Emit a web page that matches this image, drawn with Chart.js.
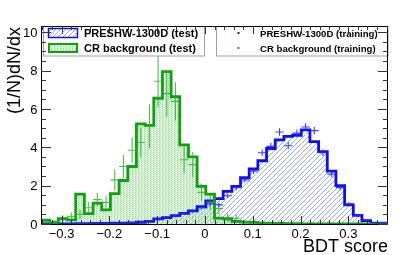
<!DOCTYPE html>
<html><head><meta charset="utf-8">
<script src="https://cdn.jsdelivr.net/npm/chart.js@4.4.1/dist/chart.umd.min.js"></script>
<style>html,body{margin:0;padding:0;background:#fff;overflow:hidden}</style>
</head><body><canvas id="c" width="409" height="255"></canvas>
<script>
// binning of the BDT score axis
const xMin = -0.343, xMax = 0.383, nBins = 40;
// PRESHW-1300D (test) histogram
const sigTest = [0.01,0.01,0.01,0.01,0.02,0.02,0.03,0.03,0.04,0.05,0.06,0.09,
  0.14,0.27,0.33,0.44,0.55,0.68,0.90,1.20,1.32,1.70,1.96,2.42,2.87,3.30,3.94,4.39,
  4.57,4.63,4.91,4.30,3.78,2.76,2.00,1.00,0.45,0.18,0.05,0.04];
// CR background (test) histogram
const bkgTest = [0.20,0.08,0.28,0.22,1.56,0.54,1.09,0.74,1.58,2.27,3.00,5.22,
  5.15,6.56,7.95,6.64,4.13,3.50,1.96,1.56,0.31,0.27,0.14,0.10,0.08,0.05,0.03,0.03,
  0.02,0.02,0.01,0.01,0,0,0,0,0,0,0,0];
// PRESHW-1300D (training) points and errors
const sigTrain = [0.01,0,0.01,0.01,0.02,0.02,0.03,0.04,0.04,0.05,0.07,0.10,
  0.15,0.25,0.35,0.42,0.55,0.65,0.85,1.05,1.00,1.47,1.90,2.30,2.76,3.72,4.05,4.80,
  4.08,4.74,5.06,4.87,3.72,2.60,1.90,1.05,0.45,0.20,0.06,0.02];
const sigTrainErr = [0.01,0,0.01,0.01,0.02,0.02,0.02,0.03,0.03,0.03,0.04,0.05,
  0.05,0.06,0.07,0.08,0.08,0.09,0.10,0.11,0.11,0.12,0.13,0.14,0.15,0.17,0.18,0.19,
  0.18,0.19,0.20,0.19,0.17,0.15,0.13,0.10,0.06,0.04,0.02,0.01];
// CR background (training) points and errors
const bkgTrain = [0.10,0.10,0.30,0.40,0.50,0.85,1.27,1.13,2.30,3.00,3.85,4.25,
  5.10,7.45,6.80,6.40,3.35,3.10,1.65,1.15,0.80,0.33,0.30,0.10,0.05,0.05,0.03,0.02,
  0.02,0.01,0,0,0,0,0,0,0,0,0,0];
const bkgTrainErr = [0.10,0.10,0.15,0.20,0.25,0.30,0.35,0.35,0.56,0.60,0.65,0.78,
  1.15,1.35,1.20,1.00,0.70,0.65,0.45,0.40,0.30,0.20,0.20,0.10,0.08,0.08,0.05,0.05,
  0.05,0.03,0,0,0,0,0,0,0,0,0,0];
// axis ticks
const xTicks = [-0.3,-0.2,-0.1,0,0.1,0.2,0.3];
const xTickLabels = ['\u22120.3','\u22120.2','\u22120.1','0','0.1','0.2','0.3'];
const yTicks = [0,2,4,6,8,10];
const yTickLabels = ['0','2','4','6','8','10'];
const yMax = 10.33;
const legendTest = ['PRESHW-1300D (test)','CR background (test)'];
const legendTrain = ['PRESHW-1300D (training)','CR background (training)'];
const xTitle = 'BDT score', yTitle = '(1/N)dN/dx';

const BLUE = '#1010e6', GREEN = '#12a012';
const bw = (xMax - xMin) / nBins;
const edge = k => xMin + k * bw;
function stepPoints(vals){
  const pts = [{x: edge(0), y: 0}];
  vals.forEach((v,k) => pts.push({x: edge(k), y: v}));
  pts.push({x: edge(nBins), y: vals[nBins-1]});
  pts.push({x: edge(nBins), y: 0});
  return pts;
}
const cv = document.getElementById('c');
const ctx0 = cv.getContext('2d');
function hatchPattern(){
  const c = document.createElement('canvas'); c.width = 5; c.height = 5;
  const g = c.getContext('2d');
  g.strokeStyle = 'rgba(120,145,205,0.85)'; g.lineWidth = 0.9;
  g.beginPath();
  for (const o of [-5,0,5]) { g.moveTo(o, 5); g.lineTo(o+5, 0); }
  g.stroke();
  return ctx0.createPattern(c, 'repeat');
}
function dotPattern(){
  const c = document.createElement('canvas'); c.width = 3; c.height = 2;
  const g = c.getContext('2d');
  g.fillStyle = 'rgba(170,225,170,0.35)'; g.fillRect(0,0,3,2);
  g.fillStyle = 'rgba(95,190,95,0.6)'; g.fillRect(0,0,1,1);
  g.fillStyle = 'rgba(140,210,140,0.45)'; g.fillRect(1,1,1,1);
  return ctx0.createPattern(c, 'repeat');
}
const hatch = hatchPattern(), dots = dotPattern();

function drawCrosses(ctx, xs, ys, vals, errs, color){
  ctx.save(); ctx.strokeStyle = color; ctx.lineWidth = 1.1;
  ctx.beginPath();
  vals.forEach((v,k) => {
    if (v <= 0) return;
    const x0 = xs.getPixelForValue(edge(k)), x1 = xs.getPixelForValue(edge(k+1));
    const xc = (x0 + x1) / 2, y = ys.getPixelForValue(v);
    ctx.moveTo(x0, y); ctx.lineTo(x1, y);
    const e = errs[k];
    if (e > 0) { ctx.moveTo(xc, ys.getPixelForValue(v + e)); ctx.lineTo(xc, ys.getPixelForValue(Math.max(0, v - e))); }
  });
  ctx.stroke(); ctx.restore();
}

const decor = {
  id: 'decor',
  afterDatasetsDraw(chart){
    const {ctx, scales:{x, y}} = chart;
    ctx.save();
    const a = chart.chartArea;
    ctx.beginPath(); ctx.rect(a.left, a.top, a.right-a.left, a.bottom-a.top); ctx.clip();
    drawCrosses(ctx, x, y, bkgTrain, bkgTrainErr, 'rgba(40,170,40,0.8)');
    drawCrosses(ctx, x, y, sigTrain, sigTrainErr, 'rgba(40,40,255,0.9)');
    ctx.restore();
  },
  afterDraw(chart){
    const {ctx, chartArea:a, scales:{x, y}} = chart;
    ctx.save();
    // legends
    ctx.fillStyle = '#fff'; ctx.strokeStyle = '#a0a0a0'; ctx.lineWidth = 1;
    ctx.fillRect(43, 26, 162, 30); ctx.strokeRect(43.5, 26.5, 161, 29.5);
    ctx.fillRect(216, 26, 172, 30); ctx.strokeRect(216.5, 26.5, 171.5, 29.5);
    // test legend symbols
    ctx.fillStyle = hatch; ctx.fillRect(48, 28, 30, 10);
    ctx.strokeStyle = BLUE; ctx.lineWidth = 1.5; ctx.strokeRect(48.5, 28.5, 29, 9);
    ctx.fillStyle = dots; ctx.fillRect(48, 43, 30, 10);
    ctx.strokeStyle = GREEN; ctx.lineWidth = 2; ctx.strokeRect(49, 44, 28, 8);
    ctx.fillStyle = '#000'; ctx.font = 'bold 11px "Liberation Sans", Arial, sans-serif';
    ctx.textAlign = 'left'; ctx.textBaseline = 'alphabetic';
    ctx.fillText(legendTest[0], 84, 37);
    ctx.fillText(legendTest[1], 84, 52);
    // training legend
    ctx.fillStyle = BLUE; ctx.fillRect(237.5, 32, 2, 2);
    ctx.fillStyle = '#22aa22'; ctx.fillRect(237.5, 47, 2, 2);
    ctx.fillStyle = '#000'; ctx.font = 'bold 9.6px "Liberation Sans", Arial, sans-serif';
    ctx.fillText(legendTrain[0], 260, 36.5);
    ctx.fillText(legendTrain[1], 260, 51.5);
    // frame
    ctx.strokeStyle = '#000'; ctx.lineWidth = 1;
    ctx.strokeRect(a.left + 0.5, a.top + 0.5, a.right - a.left - 1, a.bottom - a.top);
    // ticks
    ctx.strokeStyle = '#333'; ctx.beginPath();
    const xi0 = Math.ceil(xMin / 0.02 - 1e-6), xi1 = Math.floor(xMax / 0.02 + 1e-6);
    for (let i = xi0; i <= xi1; i++) {
      const v = i * 0.02, px = Math.round(x.getPixelForValue(v)) + 0.5;
      const major = i % 5 === 0, L = major ? 8 : 4;
      ctx.moveTo(px, a.bottom); ctx.lineTo(px, a.bottom - L);
      ctx.moveTo(px, a.top); ctx.lineTo(px, a.top + L);
    }
    for (let i = 0; i * 0.5 <= yMax; i++) {
      const py = Math.round(y.getPixelForValue(i * 0.5)) + 0.5;
      const major = i % 4 === 0, L = major ? 10 : 5;
      ctx.moveTo(a.left, py); ctx.lineTo(a.left + L, py);
      ctx.moveTo(a.right, py); ctx.lineTo(a.right - L, py);
    }
    ctx.stroke();
    // tick labels
    ctx.fillStyle = '#000'; ctx.font = '13px "Liberation Sans", Arial, sans-serif';
    ctx.textAlign = 'center';
    xTicks.forEach((v,i) => ctx.fillText(xTickLabels[i], x.getPixelForValue(v), 237.5));
    ctx.textAlign = 'right';
    yTicks.forEach((v,i) => ctx.fillText(yTickLabels[i], 37.5, y.getPixelForValue(v) + 4.7));
    // titles
    ctx.font = '18px "Liberation Sans", Arial, sans-serif';
    ctx.textAlign = 'right';
    ctx.fillText(xTitle, a.right, 252);
    ctx.save(); ctx.translate(19.5, 27); ctx.rotate(-Math.PI/2);
    ctx.fillText(yTitle, 0, 0); ctx.restore();
    ctx.restore();
  }
};

new Chart(cv, {
  type: 'line',
  data: { datasets: [
    { data: stepPoints(bkgTest), stepped: true, borderColor: GREEN, borderWidth: 2.8, pointRadius: 0, fill: false, order: 1 },
    { data: stepPoints(sigTest), stepped: true, borderColor: BLUE, borderWidth: 2.8, pointRadius: 0, fill: false, order: 2 },
    { data: stepPoints(bkgTest), stepped: true, borderWidth: 0, borderColor: 'rgba(0,0,0,0)', backgroundColor: dots, pointRadius: 0, fill: 'origin', order: 3 },
    { data: stepPoints(sigTest), stepped: true, borderWidth: 0, borderColor: 'rgba(0,0,0,0)', backgroundColor: hatch, pointRadius: 0, fill: 'origin', order: 4 }
  ]},
  options: {
    responsive: false, animation: false, devicePixelRatio: 1,
    layout: { padding: { left: 41, right: 21, top: 26, bottom: 31 } },
    plugins: { legend: { display: false }, tooltip: { enabled: false } },
    scales: {
      x: { type: 'linear', min: xMin, max: xMax, display: false },
      y: { type: 'linear', min: 0, max: yMax, display: false }
    }
  },
  plugins: [decor]
});
</script></body></html>
